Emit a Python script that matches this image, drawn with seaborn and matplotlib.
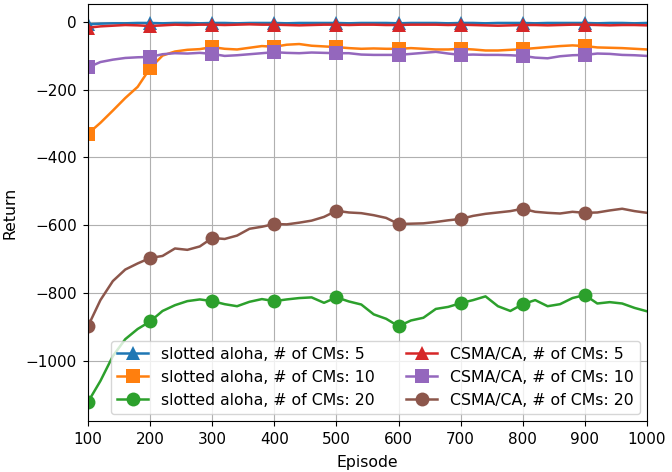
import numpy as np
import pandas as pd
import matplotlib
matplotlib.use("Agg")
import matplotlib.pyplot as plt
import seaborn as sns

episodes = list(range(100, 1001, 20))

slotted_5 = [-8, -6, -5, -5, -4, -4, -5, -4, -4, -5, -4, -4, -5, -4, -4, -4, -5, -4, -4, -4,
             -4, -5, -4, -4, -4, -5, -4, -4, -4, -5, -4, -4, -5, -4, -4, -4, -5, -4, -4, -4,
             -4, -5, -4, -4, -5, -4]
slotted_10 = [-330, -298, -262, -225, -192, -137, -100, -88, -83, -81, -75, -80, -82, -77, -72,
              -74, -68, -66, -71, -73, -75, -78, -80, -79, -80, -80, -78, -80, -82, -82,
              -80, -82, -85, -85, -83, -81, -78, -75, -72, -70, -72, -76, -77, -78, -80, -82]
slotted_20 = [-1120, -1058, -985, -935, -905, -883, -852, -835, -823, -818, -823, -832, -838,
              -825, -817, -823, -818, -814, -812, -828, -812, -824, -833, -862, -875, -897,
              -880, -872, -846, -840, -829, -820, -809, -838, -852, -832, -820, -838, -832,
              -814, -805, -830, -826, -830, -843, -853]
csma_5 = [-18, -14, -12, -10, -11, -13, -11, -9, -10, -9, -9, -10, -9, -8, -9, -9, -10, -11,
          -10, -9, -9, -10, -9, -9, -10, -10, -9, -9, -9, -10, -9, -10, -11, -12, -11, -10,
          -10, -11, -10, -9, -9, -10, -11, -10, -10, -11]
csma_10 = [-135, -119, -112, -107, -105, -104, -96, -93, -94, -92, -95, -101, -99, -96, -93,
           -90, -92, -93, -91, -92, -93, -93, -97, -98, -98, -98, -95, -92, -89, -94, -98,
           -97, -98, -98, -99, -101, -106, -108, -102, -99, -98, -94, -95, -98, -99, -101]
csma_20 = [-897, -820, -764, -730, -712, -696, -690, -668, -672, -662, -637, -640, -630, -610,
           -604, -596, -597, -592, -586, -575, -557, -562, -564, -570, -578, -596, -595, -594,
           -590, -585, -581, -572, -566, -562, -558, -551, -560, -563, -565, -560, -563, -562,
           -556, -551, -558, -563]

labels = ["slotted aloha, # of CMs: 5", "slotted aloha, # of CMs: 10",
          "slotted aloha, # of CMs: 20", "CSMA/CA, # of CMs: 5",
          "CSMA/CA, # of CMs: 10", "CSMA/CA, # of CMs: 20"]
series = [slotted_5, slotted_10, slotted_20, csma_5, csma_10, csma_20]
markers = ["^", "s", "o", "^", "s", "o"]
colors = sns.color_palette("tab10", 6)

marker_idx = [i for i, e in enumerate(episodes) if e % 100 == 0 and e <= 900]

fig = plt.figure(figsize=(6.72, 4.72), dpi=100)
ax = fig.add_axes([88 / 672, 1 - 421 / 472, 559 / 672, (421 - 4.3) / 472])

for lab, vals, mk, col in zip(labels, series, markers, colors):
    df = pd.DataFrame({"Episode": episodes, "Return": vals})
    sns.lineplot(data=df, x="Episode", y="Return", ax=ax, color=col, label=lab,
                 marker=mk, markersize=10, markevery=marker_idx, linewidth=1.8,
                 markeredgewidth=0, errorbar=None)

ax.set_xlim(100, 1000)
ax.set_ylim(-1176, 51)
ax.set_xticks(range(100, 1001, 100))
ax.set_yticks([0, -200, -400, -600, -800, -1000])
ax.grid(True)
ax.tick_params(labelsize=11, pad=4.5)
ax.set_xlabel("Episode", fontsize=11.3, labelpad=6)
ax.set_ylabel("Return", fontsize=11.3, labelpad=6)
ax.legend(ncol=2, loc="lower right", fontsize=11.3, borderaxespad=0.45)

fig.savefig("out.png", dpi=100)
